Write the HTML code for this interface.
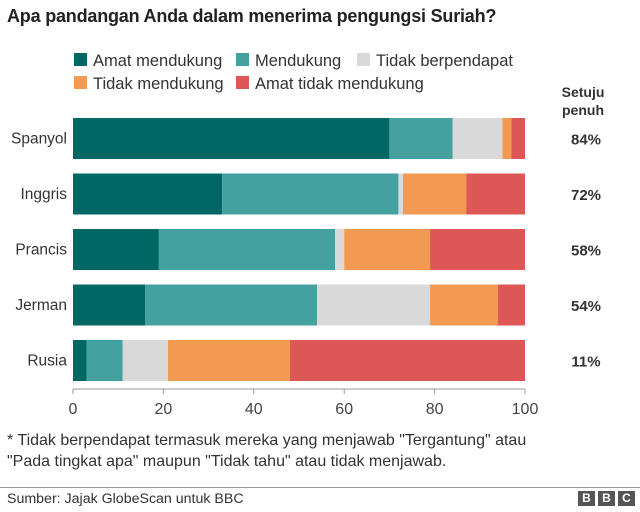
<!DOCTYPE html>
<html><head><meta charset="utf-8"><style>
body{margin:0;width:640px;height:512px;background:#fff;font-family:"Liberation Sans",sans-serif;color:#222;overflow:hidden;position:relative}
.t{position:absolute;white-space:nowrap}
</style></head><body>
<div class="t" style="left:7px;top:6px;font-size:18px;font-weight:bold;letter-spacing:-0.2px">Apa pandangan Anda dalam menerima pengungsi Suriah?</div>
<svg id="c" width="640" height="512" style="position:absolute;left:0;top:0"></svg>
<div class="t" style="left:7px;top:430px;font-size:16px;line-height:21px;color:#333">* Tidak berpendapat termasuk mereka yang menjawab "Tergantung" atau<br>"Pada tingkat apa" maupun "Tidak tahu" atau tidak menjawab.</div>
<div style="position:absolute;left:0;top:487px;width:640px;height:1px;background:#999"></div>
<div class="t" style="left:7px;top:491px;font-size:14.2px;color:#333">Sumber: Jajak GlobeScan untuk BBC</div>
<div style="position:absolute;left:578px;top:491px;display:flex;gap:3px">
<span style="width:17px;height:15px;background:#555;color:#fff;font:bold 12px 'Liberation Sans';text-align:center;line-height:15px">B</span>
<span style="width:17px;height:15px;background:#555;color:#fff;font:bold 12px 'Liberation Sans';text-align:center;line-height:15px">B</span>
<span style="width:17px;height:15px;background:#555;color:#fff;font:bold 12px 'Liberation Sans';text-align:center;line-height:15px">C</span>
</div>
<script>
const categories=["Spanyol","Inggris","Prancis","Jerman","Rusia"];
const amatMendukung=[70,33,19,16,3];
const mendukung=[14,39,39,38,8];
const tidakBerpendapat=[11,1,2,25,10];
const tidakMendukung=[2,14,19,15,27];
const amatTidakMendukung=[3,13,21,6,52];
const setujuPenuh=["84%","72%","58%","54%","11%"];
const ticks=[0,20,40,60,80,100];
const seriesNames=["Amat mendukung","Mendukung","Tidak berpendapat","Tidak mendukung","Amat tidak mendukung"];
const colors=["#006764","#45a1a0","#d9d9d9","#f29a51","#de5757"];
const series=[amatMendukung,mendukung,tidakBerpendapat,tidakMendukung,amatTidakMendukung];
const NS="http://www.w3.org/2000/svg";
const svg=document.getElementById('c');
const x=v=>73+v*4.52;
const y=i=>118+i*55.5;
const bh=41;
function mk(tag,a){const e=document.createElementNS(NS,tag);for(const k in a)e.setAttribute(k,a[k]);svg.appendChild(e);return e;}
const lpos=[[74,60],[236,60],[357,60],[74,83],[236,83]];
seriesNames.forEach((n,i)=>{
 const r=mk('rect',{x:lpos[i][0],y:lpos[i][1]-7,width:13,height:13,fill:colors[i]});
 
 
 const t=mk('text',{x:lpos[i][0]+19,y:lpos[i][1]+6,'font-size':16.5,fill:'#333'});t.textContent=n;
 
 
});
const h=mk('text',{x:583,y:97,'font-size':14,'font-weight':'bold','text-anchor':'middle',fill:'#333'});
h.innerHTML='<tspan x="583">Setuju</tspan><tspan x="583" dy="18">penuh</tspan>';


categories.forEach((c,i)=>{
 let acc=0;
 series.forEach((s,k)=>{
  const r=mk('rect',{x:x(acc),y:y(i),width:x(acc+s[i])-x(acc),height:bh,fill:colors[k]});
  
  
  acc+=s[i];
 });
 const l=mk('text',{x:67,y:y(i)+bh/2+5,'font-size':15.5,'text-anchor':'end',fill:'#333'});l.textContent=c;
 
 
 const p=mk('text',{x:586,y:y(i)+bh/2+6,'font-size':15,'font-weight':'bold','text-anchor':'middle',fill:'#333'});p.textContent=setujuPenuh[i];
 
 
});
const ax=mk('line',{x1:x(0),x2:x(100),y1:389,y2:389,stroke:'#999'});


ticks.forEach(v=>{
 mk('line',{x1:x(v),x2:x(v),y1:389,y2:394,stroke:'#999'});
 const t=mk('text',{x:x(v),y:414,'font-size':16,'text-anchor':'middle',fill:'#444'});t.textContent=v;
 
 
});
</script>
</body></html>
